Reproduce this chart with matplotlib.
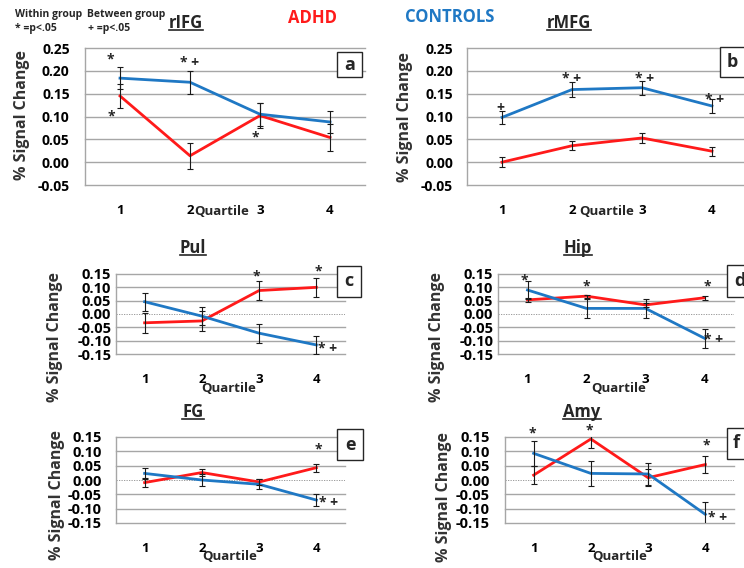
import matplotlib
matplotlib.use('Agg')
import matplotlib.pyplot as plt
from matplotlib.lines import Line2D
from matplotlib.patches import Rectangle

plt.rcParams['font.family'] = ['Open Sans', 'DejaVu Sans']
plt.rcParams['font.weight'] = 'bold'
plt.rcParams['axes.unicode_minus'] = False

# ---- data ----
quartiles = [1, 2, 3, 4]
quartile_labels = ['1', '2', '3', '4']

rifg_adhd = [0.145, 0.014, 0.102, 0.054]
rifg_adhd_err = [0.027, 0.028, 0.028, 0.029]
rifg_ctrl = [0.184, 0.175, 0.105, 0.088]
rifg_ctrl_err = [0.024, 0.025, 0.025, 0.024]

rmfg_adhd = [0.000, 0.036, 0.053, 0.024]
rmfg_adhd_err = [0.011, 0.010, 0.010, 0.010]
rmfg_ctrl = [0.098, 0.159, 0.163, 0.123]
rmfg_ctrl_err = [0.015, 0.016, 0.015, 0.015]

pul_adhd = [-0.033, -0.026, 0.088, 0.100]
pul_adhd_err = [0.037, 0.038, 0.036, 0.036]
pul_ctrl = [0.046, -0.008, -0.072, -0.116]
pul_ctrl_err = [0.034, 0.035, 0.036, 0.034]

hip_adhd = [0.053, 0.067, 0.034, 0.061]
hip_adhd_err = [0.008, 0.006, 0.006, 0.007]
hip_ctrl = [0.090, 0.021, 0.021, -0.091]
hip_ctrl_err = [0.035, 0.037, 0.036, 0.036]

fg_adhd = [-0.009, 0.026, -0.007, 0.043]
fg_adhd_err = [0.017, 0.012, 0.012, 0.014]
fg_ctrl = [0.023, 0.000, -0.015, -0.070]
fg_ctrl_err = [0.020, 0.021, 0.018, 0.020]

amy_adhd = [0.017, 0.143, 0.008, 0.054]
amy_adhd_err = [0.031, 0.030, 0.030, 0.030]
amy_ctrl = [0.093, 0.023, 0.021, -0.120]
amy_ctrl_err = [0.044, 0.045, 0.040, 0.044]

# significance marks (text, quartile, value)
rifg_marks = [('*', 0.86, 0.224), ('*', 0.87, 0.099), ('* +', 1.99, 0.217), ('*', 2.93, 0.053)]
rmfg_marks = [('+', 0.97, 0.118), ('* +', 2.0, 0.183), ('* +', 3.03, 0.183), ('* +', 4.03, 0.136)]
pul_marks = [('*', 2.95, 0.139), ('*', 4.03, 0.161), ('* +', 4.2, -0.131)]
hip_marks = [('*', 0.95, 0.127), ('*', 2.0, 0.105), ('*', 4.04, 0.105), ('* +', 4.16, -0.097)]
fg_marks = [('*', 4.03, 0.105), ('* +', 4.22, -0.080)]
amy_marks = [('*', 0.97, 0.164), ('*', 1.97, 0.174), ('*', 4.01, 0.119), ('* +', 4.22, -0.133)]

RED = '#FF1A1A'
BLUE = '#1F78C4'
GRID = '#A6A6A6'

W, H = 744, 568
fig = plt.figure(figsize=(W / 100, H / 100), dpi=100)


def fx(x):
    return x / W


def fy(y):
    return 1 - y / H


# layout in pixels: axes box, title, ylabel, "Quartile", letter box
panels = [
    dict(name='rIFG', letter='a', adhd=rifg_adhd, adhd_err=rifg_adhd_err, ctrl=rifg_ctrl, ctrl_err=rifg_ctrl_err,
         marks=rifg_marks, box=(85, 48, 365, 185), big=True, title=(186, 23), ylab=(22, 115),
         qlab=(222, 212), lbox=(337, 52, 362, 77), ypad=11, tfs=10),
    dict(name='rMFG', letter='b', adhd=rmfg_adhd, adhd_err=rmfg_adhd_err, ctrl=rmfg_ctrl, ctrl_err=rmfg_ctrl_err,
         marks=rmfg_marks, box=(467, 48, 747, 185), big=True, title=(569, 23), ylab=(405, 117),
         qlab=(607, 212), lbox=(720, 47, 745, 77), ypad=10, tfs=10),
    dict(name='Pul', letter='c', adhd=pul_adhd, adhd_err=pul_adhd_err, ctrl=pul_ctrl, ctrl_err=pul_ctrl_err,
         marks=pul_marks, box=(116, 274, 345, 354), big=False, title=(193, 248), ylab=(55, 337),
         qlab=(229, 389), lbox=(337, 266, 361, 297), ypad=3.5, tfs=10.5),
    dict(name='Hip', letter='d', adhd=hip_adhd, adhd_err=hip_adhd_err, ctrl=hip_ctrl, ctrl_err=hip_ctrl_err,
         marks=hip_marks, box=(498, 274, 734, 354), big=False, title=(578, 248), ylab=(437, 337),
         qlab=(619, 389), lbox=(727, 265, 752, 297), ypad=3.5, tfs=10.5),
    dict(name='FG', letter='e', adhd=fg_adhd, adhd_err=fg_adhd_err, ctrl=fg_ctrl, ctrl_err=fg_ctrl_err,
         marks=fg_marks, box=(116, 437, 345, 523), big=False, title=(193, 412), ylab=(57, 495),
         qlab=(230, 557), lbox=(337, 429, 363, 460), ypad=10.5, tfs=10.5),
    dict(name='Amy', letter='f', adhd=amy_adhd, adhd_err=amy_adhd_err, ctrl=amy_ctrl, ctrl_err=amy_ctrl_err,
         marks=amy_marks, box=(505, 437, 734, 523), big=False, title=(582, 412), ylab=(444, 497),
         qlab=(620, 557), lbox=(727, 428, 746, 459), ypad=11, tfs=10.5),
]

titles = []
for p in panels:
    x0, y0, x1, y1 = p['box']
    ax = fig.add_axes([fx(x0), fy(y1), (x1 - x0) / W, (y1 - y0) / H])
    if p['big']:
        yticks = [-0.05, 0.0, 0.05, 0.10, 0.15, 0.20, 0.25]
    else:
        yticks = [-0.15, -0.10, -0.05, 0.0, 0.05, 0.10, 0.15]
    ax.set_ylim(yticks[0], yticks[-1])
    ax.set_xlim(0.5, 4.5)
    ax.set_yticks(yticks)
    ax.set_yticklabels(['%.2f' % v for v in yticks])
    ax.set_xticks(quartiles)
    ax.set_xticklabels(quartile_labels)
    ax.tick_params(axis='y', length=0, pad=p['ypad'], labelsize=p['tfs'])
    ax.tick_params(axis='x', length=0, pad=13.5, labelsize=9.5)
    for lab in ax.get_yticklabels() + ax.get_xticklabels():
        lab.set_fontweight('bold')
    for s in ['top', 'right']:
        ax.spines[s].set_visible(False)
    for s in ['left', 'bottom']:
        ax.spines[s].set_color(GRID)
        ax.spines[s].set_linewidth(1)

    for v in yticks[1:]:
        if v == 0 and not p['big']:
            ax.axhline(0, color='#8C8C8C', lw=0.6, ls=(0, (1.5, 1.5)), zorder=1)
        else:
            ax.axhline(v, color=GRID, lw=1, zorder=1, clip_on=False)

    ax.plot(quartiles, p['adhd'], color=RED, lw=2, zorder=3)
    ax.plot(quartiles, p['ctrl'], color=BLUE, lw=2, zorder=3)
    ax.errorbar(quartiles, p['adhd'], yerr=p['adhd_err'], fmt='none', ecolor='#1A1A1A',
                elinewidth=0.8, capsize=2.5, capthick=0.8, zorder=4)
    ax.errorbar(quartiles, p['ctrl'], yerr=p['ctrl_err'], fmt='none', ecolor='#1A1A1A',
                elinewidth=0.8, capsize=2.5, capthick=0.8, zorder=4)

    for txt, q, v in p['marks']:
        ax.text(q, v, txt, ha='center', va='center', fontsize=10, color='#262626',
                fontweight='bold', clip_on=False)

    t = fig.text(fx(p['title'][0]), fy(p['title'][1]), p['name'], ha='center', va='center',
                 fontsize=12, fontweight='bold', color='#262626')
    titles.append(t)
    fig.text(fx(p['ylab'][0]), fy(p['ylab'][1]), '% Signal Change', rotation=90, ha='center',
             va='center', fontsize=11.5, fontweight='bold', color='#333333')
    fig.text(fx(p['qlab'][0]), fy(p['qlab'][1]), 'Quartile', ha='center', va='center',
             fontsize=9.5, fontweight='bold', color='#262626')

    bx0, by0, bx1, by1 = p['lbox']
    fig.add_artist(Rectangle((fx(bx0), fy(by1)), (bx1 - bx0) / W, (by1 - by0) / H,
                             transform=fig.transFigure, facecolor='white', edgecolor='#262626',
                             lw=1, zorder=5))
    fig.text(fx((bx0 + bx1) / 2), fy((by0 + by1) / 2), p['letter'], ha='center', va='center',
             fontsize=13, fontweight='bold', color='#262626', zorder=6)

# group labels and legend notes
fig.text(fx(312), fy(18), 'ADHD', ha='center', va='center', fontsize=12, fontweight='bold', color=RED)
fig.text(fx(450), fy(17), 'CONTROLS', ha='center', va='center', fontsize=12, fontweight='bold', color=BLUE)
fig.text(fx(15), fy(15), 'Within group', ha='left', va='center', fontsize=7.5, fontweight='bold', color='#262626')
fig.text(fx(87), fy(15), 'Between group', ha='left', va='center', fontsize=7.5, fontweight='bold', color='#262626')
fig.text(fx(15), fy(29), '* =p<.05', ha='left', va='center', fontsize=7.5, fontweight='bold', color='#262626')
fig.text(fx(88), fy(29), '+ =p<.05', ha='left', va='center', fontsize=7.5, fontweight='bold', color='#262626')

# underline the region titles
fig.canvas.draw()
inv = fig.transFigure.inverted()
for t in titles:
    bb = t.get_window_extent()
    (ux0, uy), (ux1, _) = inv.transform([(bb.x0, bb.y0 + 2), (bb.x1, bb.y0 + 2)])
    fig.add_artist(Line2D([ux0, ux1], [uy, uy], transform=fig.transFigure, color='#262626', lw=1.2))

fig.savefig('out.png', dpi=100)
